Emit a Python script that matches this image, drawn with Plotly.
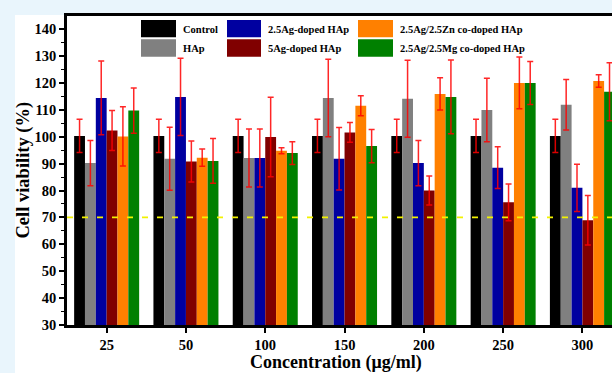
import plotly.graph_objects as go

# ---------------- data ----------------
concentrations = ["25", "50", "100", "150", "200", "250", "300"]
series_names = ["Control", "HAp", "2.5Ag-doped HAp", "5Ag-doped HAp",
                "2.5Ag/2.5Zn co-doped HAp", "2.5Ag/2.5Mg co-doped HAp"]

control = [100.3, 100.3, 100.3, 100.3, 100.3, 100.3, 100.3]
control_err = [6.2, 6.2, 6.2, 6.2, 6.2, 6.2, 6.2]
hap = [90.2, 91.8, 92.1, 114.4, 114.1, 109.9, 111.9]
hap_err = [8.4, 11.7, 10.8, 14.4, 14.3, 11.8, 9.4]
ag25 = [114.4, 114.8, 92.1, 91.8, 90.2, 88.5, 81.0]
ag25_err = [13.7, 14.4, 10.8, 11.6, 8.4, 7.8, 8.8]
ag5 = [102.3, 90.8, 99.9, 101.6, 80.0, 75.6, 68.9]
ag5_err = [7.4, 7.6, 14.8, 3.7, 5.4, 6.8, 9.2]
agzn = [100.1, 92.2, 94.8, 111.5, 115.9, 120.0, 120.7]
agzn_err = [11.0, 3.2, 1.1, 3.7, 6.0, 9.6, 2.3]
agmg = [109.7, 91.0, 93.9, 96.5, 114.8, 120.0, 116.7]
agmg_err = [8.4, 8.3, 4.2, 6.2, 13.7, 8.0, 10.8]

threshold = 70

y_ticks = [30, 40, 50, 60, 70, 80, 90, 100, 110, 120, 130, 140]

values = [control, hap, ag25, ag5, agzn, agmg]
errors = [control_err, hap_err, ag25_err, ag5_err, agzn_err, agmg_err]
colors = ["#000000", "#808080", "#0000a0", "#800000", "#ff8000", "#008000"]

# ---------------- geometry helpers (pixels -> paper) ----------------
W, H = 612, 373
ML, MR, MT, MB = 67, 0, 16, 48
PW, PH = W - ML - MR, H - MT - MB


def px(x):
    return (x - ML) / PW


def py(y):
    return (H - MB - y) / PH


FONT = "Times New Roman, Liberation Serif, serif"

fig = go.Figure()
for name, v, e, c in zip(series_names, values, errors, colors):
    fig.add_trace(go.Bar(
        x=concentrations, y=v, name=name,
        marker=dict(color=c, line=dict(width=0)),
        error_y=dict(type="data", array=e, visible=True,
                     color="rgba(255,0,0,0.85)", thickness=1.5, width=3),
        showlegend=False,
    ))

shapes = []
# white panel behind the plot
shapes.append(dict(type="rect", xref="paper", yref="paper",
                   x0=px(15), x1=1.05, y0=py(380), y1=py(15),
                   fillcolor="white", line=dict(width=0), layer="below"))
# 70% threshold line
shapes.append(dict(type="line", xref="paper", yref="y",
                   x0=0, x1=1, y0=threshold, y1=threshold,
                   line=dict(color="#f2f200", width=1.6, dash="6px,9px"),
                   layer="above"))

annotations = []
# custom legend (large swatches)
leg_cols = [(141, 176, 181), (227, 261, 266), (358, 393, 398)]
leg_rows = [(20, 37.3), (39.3, 56.7)]
order = [(0, 0), (1, 0), (0, 1), (1, 1), (0, 2), (1, 2)]  # (row, col) per series
for (r, cidx), name, c in zip(order, series_names, colors):
    x0, x1, xt = leg_cols[cidx]
    y0, y1 = leg_rows[r]
    shapes.append(dict(type="rect", xref="paper", yref="paper",
                       x0=px(x0), x1=px(x1), y0=py(y1), y1=py(y0),
                       fillcolor=c, line=dict(width=0), layer="above"))
    annotations.append(dict(xref="paper", yref="paper", x=px(xt), y=py((y0 + y1) / 2 + 0.5),
                            text=name, showarrow=False, xanchor="left", yanchor="middle",
                            font=dict(family=FONT, size=10.5, color="black", weight="bold")))

# axis titles
annotations.append(dict(xref="paper", yref="paper", x=px(335.5), y=py(362),
                        text="Concentration (μg/ml)", showarrow=False,
                        xanchor="center", yanchor="middle",
                        font=dict(family=FONT, size=18, color="black", weight="bold")))
annotations.append(dict(xref="paper", yref="paper", x=px(23), y=0.5,
                        text="Cell viability (%)", showarrow=False, textangle=-90,
                        xanchor="center", yanchor="middle",
                        font=dict(family=FONT, size=18.5, color="black", weight="bold")))

fig.update_layout(
    width=W, height=H,
    margin=dict(l=ML, r=MR, t=MT, b=MB, pad=0),
    paper_bgcolor="#e9f5fc", plot_bgcolor="white",
    barmode="group", bargap=0.18, bargroupgap=0,
    shapes=shapes, annotations=annotations,
    showlegend=False,
    font=dict(family=FONT, color="black"),
)
fig.update_xaxes(
    type="category", range=[-0.5, 6.373],
    showline=True, linecolor="black", linewidth=2.5, mirror=True,
    ticks="outside", ticklen=5, tickwidth=1.5, tickcolor="black",
    tickfont=dict(family=FONT, size=14.5, color="black", weight="bold"),
    showgrid=False, zeroline=False,
)
fig.update_yaxes(
    range=[30, 30 + PH / 2.69], tickvals=y_ticks,
    showline=True, linecolor="black", linewidth=2.5, mirror=False,
    ticks="outside", ticklen=5, tickwidth=1.5, tickcolor="black",
    minor=dict(dtick=5, tick0=0, ticks="outside", ticklen=3, tickwidth=1.2, tickcolor="black"),
    tickfont=dict(family=FONT, size=14.5, color="black", weight="bold"),
    showgrid=False, zeroline=False,
)

fig.write_html(
    "out.html",
    config={"displayModeBar": False},
    post_script="document.body.style.margin='0';document.body.style.overflow='hidden';",
)
